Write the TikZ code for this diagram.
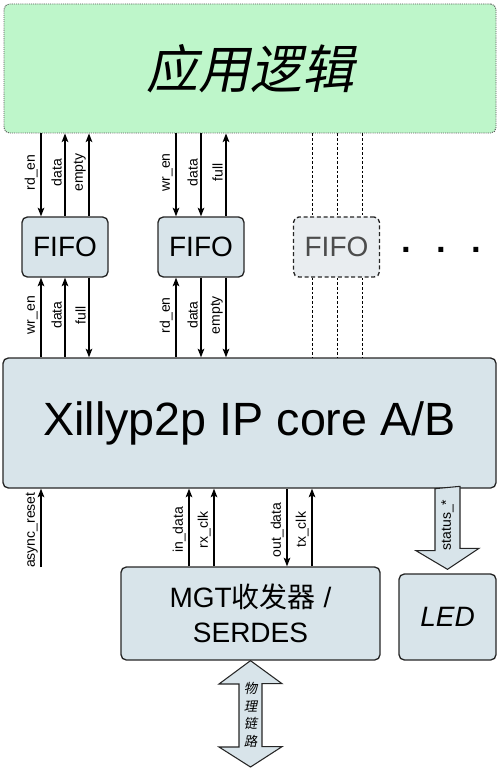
\documentclass[tikz,border=0pt]{standalone}
\usepackage{fontspec}
\setmainfont{Liberation Sans}
\newfontfamily\cjk{Noto Sans CJK SC}
\newfontfamily\cjkit{Noto Sans CJK SC}[FakeSlant=0.2]
\usepackage{tikz}
\usetikzlibrary{arrows.meta}
\usetikzlibrary{calc}

\definecolor{appgreen}{RGB}{190,246,202}
\definecolor{boxblue}{RGB}{216,228,234}
\definecolor{ghostblue}{RGB}{233,237,240}

\tikzset{
  block/.style={draw=black!85, line width=1pt, fill=boxblue, rounded corners=4pt, inner sep=0pt},
  fifo/.style={block, minimum width=64.5pt, minimum height=45pt, font=\fontsize{21}{25}\selectfont},
  sig/.style={line width=1pt},
  lbl/.style={pos=0.47, rotate=90, anchor=south, inner sep=2pt, font=\fontsize{10.5}{12}\selectfont},
  ghost/.style={dash pattern=on 2pt off 1.5pt, line width=0.6pt},
  fatarrow/.style={draw=black!85, line width=0.8pt, fill=boxblue},
  >={Stealth[length=6.5pt,width=5pt,inset=1.5pt]}
}

\begin{document}
\begin{tikzpicture}[x=0.75pt,y=0.75pt,yscale=-1,xscale=1]
\useasboundingbox (0,0) rectangle (500,773);

% Blocks
\draw (250,68.5) node [block, fill=appgreen, draw=black!65, line width=0.7pt, dash pattern=on 0.8pt off 0.8pt, minimum width=369pt, minimum height=96.75pt, font=\cjkit\fontsize{39}{45}\selectfont] (app) {应用逻辑};
\draw (65,247) node [fifo] (fifoa) {FIFO};
\draw (201,247) node [fifo] (fifob) {FIFO};
\draw (336.5,247) node [fifo, fill=ghostblue, text=black!70, dash pattern=on 3pt off 2pt] (fifoc) {FIFO};
\draw (442,254) node [font=\bfseries\fontsize{26}{26}\selectfont] (more) {·\hspace{17.5pt}·\hspace{17.5pt}·};
\draw (249.5,423) node [block, minimum width=369.75pt, minimum height=97.5pt, font=\fontsize{35}{40}\selectfont] (core) {Xillyp2p IP core A/B};
\draw (250.5,613.5) node [block, minimum width=194.25pt, minimum height=69.75pt, align=center, font=\fontsize{21}{26}\selectfont] (mgt) {MGT{\cjk 收发器} /\\SERDES};
\draw (447.5,617) node [block, minimum width=72.75pt, minimum height=64.5pt, font=\itshape\fontsize{21}{25}\selectfont] (led) {LED};

% Signal columns
\coordinate (a1) at (41,0);
\coordinate (a2) at (65,0);
\coordinate (a3) at (89,0);
\coordinate (b1) at (176,0);
\coordinate (b2) at (201,0);
\coordinate (b3) at (226,0);
\coordinate (m1) at (189,0);
\coordinate (m2) at (214,0);
\coordinate (m3) at (287,0);
\coordinate (m4) at (312,0);
\coordinate (rst) at (41,567);

% Application logic <-> FIFOs
\draw [sig,->] (app.south -| a1) -- node [lbl] {rd\_en} (fifoa.north -| a1);
\draw [sig,<-] (app.south -| a2) -- node [lbl] {data} (fifoa.north -| a2);
\draw [sig,<-] (app.south -| a3) -- node [lbl] {empty} (fifoa.north -| a3);
\draw [sig,->] (app.south -| b1) -- node [lbl] {wr\_en} (fifob.north -| b1);
\draw [sig,->] (app.south -| b2) -- node [lbl] {data} (fifob.north -| b2);
\draw [sig,<-] (app.south -| b3) -- node [lbl] {full} (fifob.north -| b3);

% FIFOs <-> core
\draw [sig,<-] (fifoa.south -| a1) -- node [lbl] {wr\_en} (core.north -| a1);
\draw [sig,<-] (fifoa.south -| a2) -- node [lbl] {data} (core.north -| a2);
\draw [sig,->] (fifoa.south -| a3) -- node [lbl] {full} (core.north -| a3);
\draw [sig,<-] (fifob.south -| b1) -- node [lbl] {rd\_en} (core.north -| b1);
\draw [sig,->] (fifob.south -| b2) -- node [lbl] {data} (core.north -| b2);
\draw [sig,->] (fifob.south -| b3) -- node [lbl] {empty} (core.north -| b3);

% Further FIFOs
\foreach \cx in {312,337,362} {
  \draw [ghost] (app.south -| \cx,0) -- (fifoc.north -| \cx,0);
  \draw [ghost] (fifoc.south -| \cx,0) -- (core.north -| \cx,0);
}

% Core <-> transceiver
\draw [sig,->] (rst) -- node [lbl] {async\_reset} (core.south -| rst);
\draw [sig,->] (mgt.north -| m1) -- node [lbl] {in\_data} (core.south -| m1);
\draw [sig,->] (mgt.north -| m2) -- node [lbl] {rx\_clk} (core.south -| m2);
\draw [sig,<-] (mgt.north -| m3) -- node [lbl] {out\_data} (core.south -| m3);
\draw [sig,->] (mgt.north -| m4) -- node [lbl] {tx\_clk} (core.south -| m4);

% Status to LED
\coordinate (sttop) at (core.south -| led.north);
\coordinate (sttip) at ($(led.north)+(0,-4)$);
\draw [fatarrow] (sttop) ++(-12.5,0) -- ++(0,62) -- ++(-19,0) -- (sttip) -- ++(31.5,-21) -- ++(-19,0) -- ++(0,-62) -- cycle;
\draw (447.5,525) node [rotate=90, font=\fontsize{10.5}{12}\selectfont] (status) {status\_*};

% Physical link
\coordinate (phy) at (250.5,767);
\draw [fatarrow] (mgt.south) -- ++(31.5,23) -- ++(-20,0) -- ++(0,63) -- ++(20,0) -- (phy) -- ++(-31.5,-20) -- ++(20,0) -- ++(0,-63) -- ++(-20,0) -- cycle;
\draw (250.5,715) node [align=center, inner sep=0pt, font=\cjkit\fontsize{10}{13.3}\selectfont] (phytxt) {物\\理\\链\\路};

\end{tikzpicture}
\end{document}
